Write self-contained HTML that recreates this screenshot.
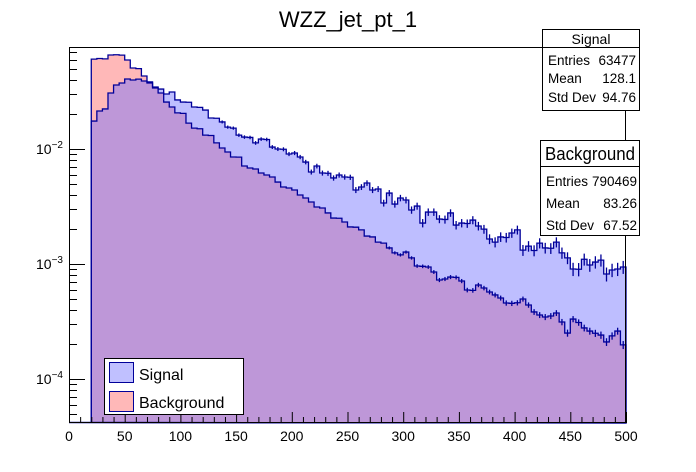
<!DOCTYPE html>
<html><head><meta charset="utf-8"><style>
html,body{margin:0;padding:0;background:#fff;}
svg{display:block;font-family:"Liberation Sans",Arial,sans-serif;}
</style></head><body>
<svg id="chart" width="696" height="472" viewBox="0 0 696 472" xmlns="http://www.w3.org/2000/svg">
<text x="348" y="27" font-size="22" text-anchor="middle">WZZ_jet_pt_1</text>
<g id="plot"></g>
<g id="axes"></g>
<g>
<rect x="542.5" y="29.5" width="97" height="81" fill="#fff" stroke="#000"/>
<line x1="542.5" y1="47.5" x2="639.5" y2="47.5" stroke="#000"/>
<text x="591" y="44" font-size="14" text-anchor="middle">Signal</text>
<text x="548" y="65" font-size="13.5">Entries</text><text x="636" y="65" font-size="13.5" text-anchor="end">63477</text>
<text x="548" y="83" font-size="13.5">Mean</text><text x="636" y="83" font-size="13.5" text-anchor="end">128.1</text>
<text x="548" y="102" font-size="13.5">Std Dev</text><text x="636" y="102" font-size="13.5" text-anchor="end">94.76</text>
</g>
<g>
<rect x="540.5" y="140.5" width="99" height="95" fill="#fff" stroke="#000"/>
<line x1="540.5" y1="166.5" x2="639.5" y2="166.5" stroke="#000"/>
<text x="590" y="160" font-size="18" text-anchor="middle" textLength="90" lengthAdjust="spacingAndGlyphs">Background</text>
<text x="546" y="186" font-size="13.5">Entries</text><text x="637" y="186" font-size="13.5" text-anchor="end">790469</text>
<text x="546" y="208" font-size="13.5">Mean</text><text x="637" y="208" font-size="13.5" text-anchor="end">83.26</text>
<text x="546" y="230" font-size="13.5">Std Dev</text><text x="637" y="230" font-size="13.5" text-anchor="end">67.52</text>
</g>
<g>
<rect x="104.5" y="358.5" width="139" height="56" fill="#fff" stroke="#000"/>
<rect x="109.5" y="362.5" width="24" height="20" fill="#c0c0ff" stroke="#000099"/>
<text x="139" y="380" font-size="16">Signal</text>
<rect x="109.5" y="391.5" width="24" height="20" fill="#ffb8b8" stroke="#000099"/>
<text x="139" y="408" font-size="16">Background</text>
</g>
</svg>
<script>
const binEdgesStart = [20];
const binWidth = [5];
const bgValues = [0.0605,0.0612,0.0608,0.0657,0.0660,0.0655,0.0594,0.0506,0.0500,0.0431,
0.0383,0.0339,0.0307,0.0256,0.0232,0.0206,0.0204,0.0168,0.0152,0.0150,
0.0132,0.0131,0.0113,0.0102,0.00942,0.00852,0.00850,0.00711,0.00684,0.00670,
0.00618,0.00594,0.00571,0.00516,0.00467,0.00458,0.00440,0.00398,0.00375,0.00346,
0.00313,0.00307,0.00278,0.00251,0.00250,0.00232,0.00210,0.00209,0.00198,0.00175,
0.00172,0.00155,0.00152,0.00138,0.00125,0.00120,0.00127,0.00113,0.000961,0.000955,
0.000942,0.000852,0.000726,0.000741,0.000770,0.000765,0.000711,0.000594,0.000590,0.000657,
0.000618,0.000571,0.000538,0.000506,0.000458,0.000455,0.000460,0.000496,0.000440,0.000383,
0.000360,0.000346,0.000353,0.000375,0.000313,0.000251,0.000332,0.000310,0.000278,0.000261,
0.000250,0.000241,0.000210,0.000237,0.000261,0.000198];
const sigValues = [0.0175,0.0214,0.0223,0.0307,0.0360,0.0375,0.0406,0.0398,0.0405,0.0390,
0.0375,0.0346,0.0332,0.0301,0.0313,0.0267,0.0256,0.0255,0.0232,0.0230,
0.0218,0.0186,0.0185,0.0172,0.0155,0.0152,0.0132,0.0127,0.0126,0.0113,
0.0122,0.0121,0.0104,0.0100,0.00995,0.00905,0.00923,0.00852,0.00770,0.00631,
0.00711,0.00618,0.00615,0.00560,0.00594,0.00571,0.00568,0.00440,0.00467,0.00506,
0.00440,0.00449,0.00339,0.00414,0.00332,0.00375,0.00360,0.00295,0.00319,0.00227,
0.00283,0.00283,0.00246,0.00244,0.00278,0.00218,0.00227,0.00225,0.00241,0.00214,
0.00201,0.00165,0.00155,0.00172,0.00170,0.00186,0.00198,0.00132,0.00143,0.00131,
0.00152,0.00138,0.00137,0.00155,0.00125,0.00113,0.000905,0.000900,0.00110,0.000980,
0.00104,0.00108,0.000818,0.000887,0.000905,0.000942];
const entries = [63477, 790469];
const xTicks = [0,50,100,150,200,250,300,350,400,450,500];
const yDecades = [-4,-3,-2];

const NS="http://www.w3.org/2000/svg";
const L=69,R=626,T=47,B=423;
const xMin=0,xMax=500;
const yRef=149, pxPerDec=115;
function X(v){return L+(v-xMin)*(R-L)/(xMax-xMin);}
function Y(v){return yRef-(Math.log10(v)+2)*pxPerDec;}
function mk(tag,attrs,parent){const e=document.createElementNS(NS,tag);for(const k in attrs)e.setAttribute(k,attrs[k]);parent.appendChild(e);return e;}
const plot=document.getElementById('plot');
const axes=document.getElementById('axes');
function stepPath(vals,closed){
  let d='';const x0=X(binEdgesStart[0]);
  if(closed)d+='M'+x0+','+B;
  vals.forEach((v,i)=>{const xa=X(binEdgesStart[0]+i*binWidth[0]),xb=X(binEdgesStart[0]+(i+1)*binWidth[0]);const y=Math.min(B,Y(v));
    d+=(d===''?'M':'L')+xa+','+y+'L'+xb+','+y;});
  if(closed)d+='L'+X(binEdgesStart[0]+vals.length*binWidth[0])+','+B+'Z';
  return d;
}
function draw(vals,fill,op,name){
  const f=mk('path',{d:stepPath(vals,true),fill:fill,'fill-opacity':op,stroke:'none'},plot);
  
  
}
function outline(vals,name,nEntries){
  const o=mk('path',{d:'M'+L+','+(B-0.5)+'L'+X(binEdgesStart[0])+','+(B-0.5)+stepPath(vals,true).replace(/^M/,'L'),fill:'none',stroke:'#000099','stroke-width':1.3},plot);
  
  
  vals.forEach((v,i)=>{
    const xc=X(binEdgesStart[0]+(i+0.5)*binWidth[0]);
    const rel=1/Math.sqrt(Math.max(1,v*nEntries));
    const y1=Y(v*(1+rel)),y2=Y(Math.max(v*(1-rel),1e-6));
    if(y2-y1<3)return;
    const e=mk('line',{x1:xc,x2:xc,y1:y1,y2:Math.min(B,y2),stroke:'#000099','stroke-width':1.3},plot);
    
    
  });
}
draw(bgValues,'#ffb8b8',1,'background-hist');
draw(sigValues,'#6e6eff',0.45,'signal-hist');
outline(bgValues,'background-hist',entries[1]);
outline(sigValues,'signal-hist',entries[0]);
const fr=mk('rect',{x:L+0.5,y:T+0.5,width:R-L-1,height:B-T-1,fill:'none',stroke:'#000'},axes);


for(let v=0;v<=500;v+=10){
  const x=X(v)+0.5;const big=v%50===0;
  const t=mk('line',{x1:x,x2:x,y1:B,y2:B-(big?11:6),stroke:'#000'},axes);
  
  
}
xTicks.forEach(v=>{
  const t=mk('text',{x:X(v),y:441,'font-size':14,'text-anchor':'middle'},axes);
  t.textContent=v;
  
  
});
for(let d=-5;d<=-1;d++){
  for(let m=1;m<=9;m++){
    const v=m*Math.pow(10,d);const y=Y(v);
    if(y<T||y>B)continue;
    const yy=Math.round(y)+0.5;
    const t=mk('line',{x1:L,x2:L+(m===1?16:8),y1:yy,y2:yy,stroke:'#000'},axes);
    
    
  }
}
yDecades.forEach(d=>{
  const y=Y(Math.pow(10,d));
  const t=mk('text',{x:36,y:y+5,'font-size':14},axes);
  t.textContent='10';
  
  
  const s=mk('tspan',{dy:-6,'font-size':10},t);
  s.textContent='\u2212'+(-d);
});
</script>
</body></html>
